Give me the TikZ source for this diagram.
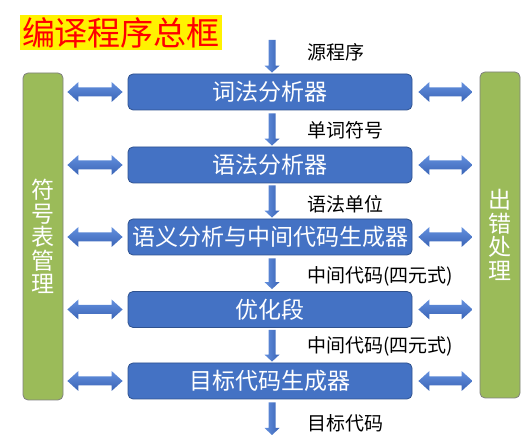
\documentclass[tikz,border=0pt]{standalone}
\usepackage{fontspec}
\setmainfont{Noto Sans CJK SC}
\usetikzlibrary{calc}
\definecolor{boxblue}{RGB}{68,114,196}
\definecolor{boxedge}{RGB}{47,82,143}
\definecolor{bargreen}{RGB}{155,187,89}
\definecolor{baredge}{RGB}{128,128,128}
\definecolor{arrlight}{RGB}{100,144,222}
\definecolor{arrdark}{RGB}{58,100,182}
\newcommand\blkdown[2]{\shade[varrow] let \p1=#1, \p2=#2 in
  (\x1-3.5pt,\y1) -- (\x1+3.5pt,\y1) -- (\x1+3.5pt,\y2+7pt) -- (\x1+7.5pt,\y2+7pt)
  -- (\x1,\y2) -- (\x1-7.5pt,\y2+7pt) -- (\x1-3.5pt,\y2+7pt) -- cycle;}
\newcommand\blkdouble[2]{\shade[harrow] let \p1=#1, \p2=#2 in
  (\x1,\y1) -- (\x1+11pt,\y1+10pt) -- (\x1+11pt,\y1+4.5pt) -- (\x2-11pt,\y1+4.5pt)
  -- (\x2-11pt,\y1+10pt) -- (\x2,\y1) -- (\x2-11pt,\y1-10pt) -- (\x2-11pt,\y1-4.5pt)
  -- (\x1+11pt,\y1-4.5pt) -- (\x1+11pt,\y1-10pt) -- cycle;}
\begin{document}
\begin{tikzpicture}[x=1pt,y=-1pt,
  stage/.style={draw=boxedge,line width=0.8pt,fill=boxblue,rounded corners=5pt,
    minimum width=284pt,minimum height=36pt,inner sep=0pt,text=white,
    font=\fontsize{23}{26}\selectfont},
  sidebar/.style={draw=baredge,line width=0.8pt,fill=bargreen,rounded corners=5pt,
    minimum width=40pt,inner sep=0pt,text=white,align=center,
    font=\fontsize{23}{23.6}\selectfont},
  flowlabel/.style={anchor=west,inner sep=0pt,font=\fontsize{19}{22}\selectfont},
  varrow/.style={left color=arrlight,right color=arrdark},
  harrow/.style={top color=arrlight,bottom color=arrdark}]
\useasboundingbox (0,0) rectangle (528,446);
\node[fill=yellow,text=red,minimum width=202pt,minimum height=35pt,inner sep=0pt,
  font=\fontsize{33}{36}\selectfont] (title) at (121,32.5) {编译程序总框};
\node[sidebar,minimum height=327pt] (lbar) at (43,236.5) {符\\号\\表\\管\\理};
\node[sidebar,minimum height=326pt] (rbar) at (500,235) {出\\错\\处\\理};
\node[stage] (b1) at (270,92) {词法分析器};
\node[stage] (b2) at (270,165) {语法分析器};
\node[stage] (b3) at (270,237) {语义分析与中间代码生成器};
\node[stage] (b4) at (270,309.5) {优化段};
\node[stage] (b5) at (270,381) {目标代码生成器};
\coordinate (src) at (272,40);
\coordinate (sink) at (272,435);
\blkdown{(src)}{($(b1.north)+(0,-1)$)}
\blkdown{($(b1.south)+(2,3)$)}{($(b2.north)+(0,-1)$)}
\blkdown{($(b2.south)+(2,2)$)}{($(b3.north)+(0,-1)$)}
\blkdown{($(b3.south)+(2,3)$)}{($(b4.north)+(0,-2)$)}
\blkdown{($(b4.south)+(2,2)$)}{($(b5.north)+(0,-1)$)}
\blkdown{($(b5.south)+(2,3)$)}{(sink)}
\foreach \b in {b1,b2,b3,b4,b5}{
  \blkdouble{($(lbar.east|-\b)+(4,0)$)}{($(\b.west)+(-5,0)$)}
  \blkdouble{($(\b.east)+(6,0)$)}{($(rbar.west|-\b)+(-7,0)$)}
}
\node[flowlabel] (l1) at (307,52) {源程序};
\node[flowlabel] (l2) at (307,130) {单词符号};
\node[flowlabel] (l3) at (307,204) {语法单位};
\node[flowlabel] (l4) at (307,276) {中间代码(四元式)};
\node[flowlabel] (l5) at (307,346) {中间代码(四元式)};
\node[flowlabel] (l6) at (307,423) {目标代码};
\end{tikzpicture}
\end{document}
